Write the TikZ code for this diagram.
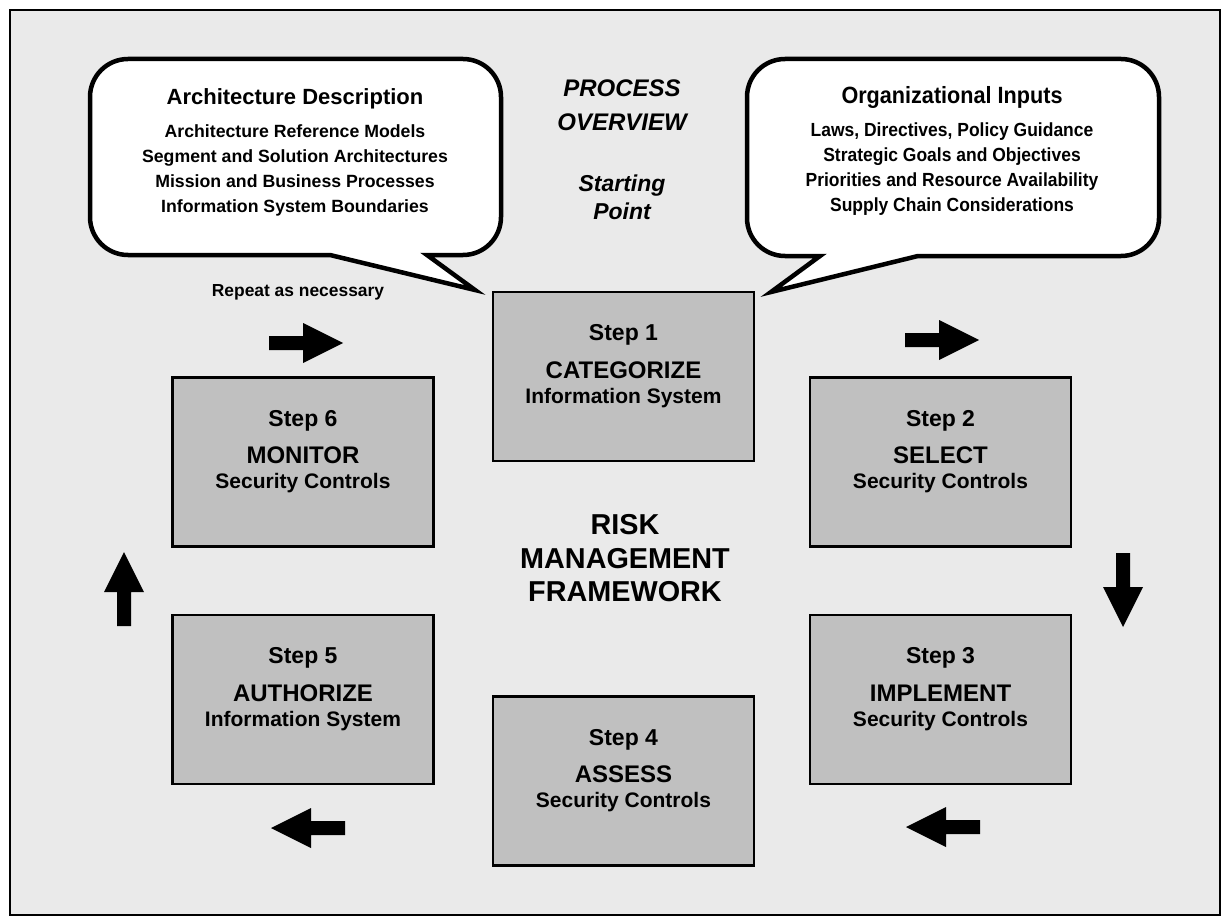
\documentclass[tikz,border=0pt]{standalone}
\usepackage{fontspec}
\setmainfont{Liberation Sans}
\newfontfamily\narrowsans[FakeStretch=0.92]{Liberation Sans}
\definecolor{panel}{RGB}{234,234,234}
\definecolor{stepfill}{RGB}{192,192,192}

\begin{document}
\begin{tikzpicture}[x=1pt,y=-1pt,
  stepbox/.style={draw,line width=2.2pt,fill=stepfill,minimum width=261pt,minimum height=169pt,inner sep=0pt},
  steptext/.style={align=center,inner sep=0pt,font=\bfseries\fontsize{21}{25}\selectfont},
  callout/.style={draw,fill=white,line width=4.5pt,line join=miter},
  calltext/.style={align=center,inner sep=0pt,font=\bfseries\fontsize{17.7}{25}\selectfont}]
\useasboundingbox (0,0) rectangle (1222,917);
\fill[white] (0,0) rectangle (1222,917);
\draw[line width=2pt,fill=panel] (10,10) rectangle (1220,915);

\draw[callout] (475,290) -- (330,255) [rounded corners=38pt] -- (90,255) -- (90,59) -- (501,59) -- (501,255) [sharp corners] -- (427,255) -- cycle;
\draw[callout] (771,292) -- (918,256) [rounded corners=38pt] -- (1159,256) -- (1159,59) -- (747,59) -- (747,256) [sharp corners] -- (820,256) -- cycle;

\node[calltext] (archdesc) at (295,152) {{\fontsize{22}{25}\selectfont Architecture Description}\\[8pt]
  Architecture Reference Models\\Segment and Solution Architectures\\
  Mission and Business Processes\\Information System Boundaries};
\node[calltext,font=\narrowsans\bfseries\fontsize{19}{25}\selectfont] (orginputs) at (952,151) {{\fontsize{23.5}{25}\selectfont Organizational Inputs}\\[8pt]
  Laws, Directives, Policy Guidance\\Strategic Goals and Objectives\\
  Priorities and Resource Availability\\Supply Chain Considerations};

\node[align=center,inner sep=0pt,font=\bfseries\itshape\fontsize{24}{34}\selectfont] (overview) at (622,105.3) {PROCESS\\OVERVIEW};
\node[align=center,inner sep=0pt,font=\bfseries\itshape\fontsize{23}{28}\selectfont] (start) at (622,197.6) {Starting\\Point};
\node[align=center,inner sep=0pt,font=\bfseries\fontsize{28.8}{33.5}\selectfont] (rmf) at (625,558.3) {RISK\\MANAGEMENT\\FRAMEWORK};
\node[anchor=base,inner sep=0pt,font=\bfseries\fontsize{17.4}{21}\selectfont] (repeat) at (298,296) {Repeat as necessary};

\foreach \n/\cx/\cy/\act/\what in {1/623.5/376.5/CATEGORIZE/Information System,
    2/940.5/462/SELECT/Security Controls, 3/940.5/699.5/IMPLEMENT/Security Controls,
    4/623.5/781/ASSESS/Security Controls, 5/303/699.5/AUTHORIZE/Information System,
    6/303/462/MONITOR/Security Controls} {
  \node[stepbox] (s\n) at (\cx,\cy) {};
  \node[steptext] (t\n) at ([yshift=10.6pt]s\n.center) {{\fontsize{23}{25}\selectfont Step \n}\\[12.5pt]{\fontsize{24}{25}\selectfont \act}\\\what};
}

\foreach \ax/\ay/\ar in {306/343/0, 942/340/0, 1123/590/-90, 943/827/180, 308/828/180, 124/589/90} {
  \fill[shift={(\ax,\ay)},rotate=\ar] (-37,-7) -- (-3,-7) -- (-3,-20) -- (37,0) -- (-3,20) -- (-3,7) -- (-37,7) -- cycle;
}
\end{tikzpicture}
\end{document}
